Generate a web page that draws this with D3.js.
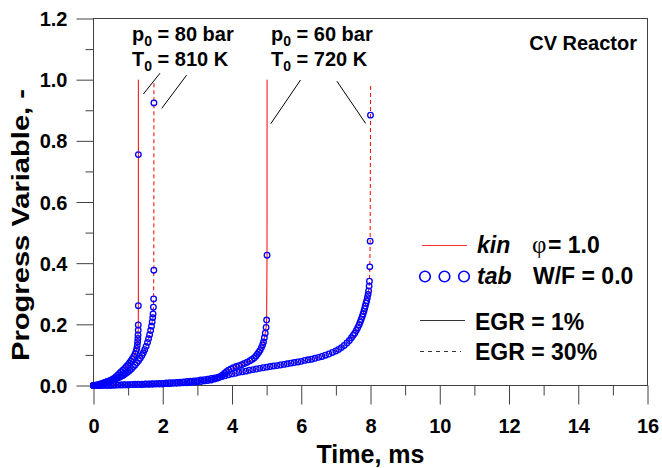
<!DOCTYPE html>
<html>
<head>
<meta charset="utf-8">
<script src="https://cdn.jsdelivr.net/npm/d3@7"></script>
<style>
  body { margin: 0; background: #fff; }
  svg { display: block; }
  text { font-family: "Liberation Sans", Arial, sans-serif; font-weight: bold; fill: #000; }
</style>
</head>
<body>
<svg id="chart" width="662" height="468"></svg>
<script>
// Progress variable vs time, CV reactor. [time ms, progress variable]
// p0 = 80 bar, T0 = 810 K, EGR = 1% (tabulated points)
const tab80egr1 = [
  [0,0],[0.05,0],[0.1,0.001],[0.15,0.002],[0.2,0.003],[0.25,0.004],[0.3,0.006],[0.35,0.008],
  [0.4,0.010],[0.45,0.013],[0.5,0.016],[0.55,0.020],[0.6,0.024],[0.65,0.029],[0.7,0.034],
  [0.75,0.039],[0.8,0.045],[0.85,0.050],[0.9,0.056],[0.95,0.062],[1.0,0.068],[1.04,0.074],
  [1.08,0.080],[1.12,0.087],[1.16,0.094],[1.2,0.103],[1.23,0.112],[1.25,0.121],[1.265,0.132],
  [1.275,0.143],[1.282,0.154],[1.287,0.165],[1.291,0.181],[1.293,0.198],[1.295,0.261],[1.296,0.755]
];
// p0 = 80 bar, T0 = 810 K, EGR = 30%
const tab80egr30 = [
  [0,0],[0.05,0.001],[0.1,0.002],[0.15,0.003],[0.2,0.005],[0.25,0.007],[0.3,0.009],[0.35,0.011],
  [0.4,0.013],[0.45,0.015],[0.5,0.017],[0.55,0.019],[0.6,0.021],[0.65,0.023],[0.7,0.025],
  [0.75,0.027],[0.8,0.030],[0.85,0.033],[0.9,0.037],[0.95,0.041],[1.0,0.045],[1.05,0.050],
  [1.1,0.055],[1.15,0.061],[1.2,0.067],[1.25,0.074],[1.3,0.081],[1.35,0.089],[1.4,0.098],
  [1.44,0.107],[1.48,0.117],[1.52,0.128],[1.56,0.141],[1.59,0.153],[1.62,0.166],[1.65,0.180],
  [1.675,0.194],[1.695,0.208],[1.71,0.222],[1.72,0.234],[1.73,0.256],[1.737,0.283],
  [1.742,0.377],[1.745,0.924]
];
// p0 = 60 bar, T0 = 720 K, EGR = 1%
const tab60egr1 = [
  [0,0],[0.1,0],[0.2,0],[0.3,0.001],[0.4,0.001],[0.5,0.001],[0.6,0.001],[0.7,0.002],[0.8,0.002],
  [0.9,0.002],[1.0,0.002],[1.1,0.003],[1.2,0.003],[1.3,0.003],[1.4,0.003],[1.5,0.004],[1.6,0.004],
  [1.7,0.004],[1.8,0.005],[1.9,0.005],[2.0,0.005],[2.1,0.006],[2.2,0.006],[2.3,0.007],[2.4,0.007],
  [2.5,0.008],[2.6,0.009],[2.7,0.009],[2.8,0.010],[2.9,0.011],[3.0,0.012],[3.1,0.013],[3.2,0.015],
  [3.3,0.016],[3.4,0.018],[3.5,0.021],[3.58,0.024],[3.64,0.027],[3.69,0.031],[3.74,0.035],
  [3.79,0.040],[3.84,0.045],[3.9,0.050],[3.97,0.054],[4.04,0.058],[4.12,0.062],[4.2,0.065],
  [4.28,0.068],[4.36,0.072],[4.44,0.076],[4.52,0.081],[4.58,0.085],[4.64,0.090],[4.69,0.096],
  [4.73,0.102],[4.77,0.108],[4.81,0.115],[4.85,0.124],[4.885,0.133],[4.91,0.142],[4.935,0.156],
  [4.96,0.171],[4.985,0.190],[5.0,0.214],[5.012,0.426]
];
// p0 = 60 bar, T0 = 720 K, EGR = 30%
const tab60egr30 = [
  [0,0],[0.1,0],[0.2,0.001],[0.3,0.001],[0.4,0.001],[0.5,0.001],[0.6,0.002],[0.7,0.002],[0.8,0.002],
  [0.9,0.003],[1.0,0.003],[1.1,0.003],[1.2,0.004],[1.3,0.004],[1.4,0.004],[1.5,0.005],[1.6,0.005],
  [1.7,0.006],[1.8,0.006],[1.9,0.007],[2.0,0.007],[2.1,0.008],[2.2,0.009],[2.3,0.009],[2.4,0.010],
  [2.5,0.011],[2.6,0.012],[2.7,0.013],[2.8,0.014],[2.9,0.015],[3.0,0.016],[3.1,0.018],[3.2,0.019],
  [3.3,0.021],[3.4,0.023],[3.5,0.025],[3.6,0.027],[3.7,0.029],[3.8,0.032],[3.9,0.035],[4.0,0.038],
  [4.1,0.040],[4.2,0.043],[4.3,0.045],[4.4,0.047],[4.5,0.050],[4.6,0.052],[4.7,0.054],[4.8,0.056],
  [4.9,0.058],[5.0,0.060],[5.1,0.062],[5.2,0.064],[5.3,0.065],[5.4,0.067],[5.5,0.069],[5.6,0.071],
  [5.7,0.073],[5.8,0.075],[5.9,0.077],[6.0,0.079],[6.1,0.082],[6.2,0.084],[6.3,0.086],[6.4,0.089],
  [6.5,0.092],[6.6,0.095],[6.7,0.099],[6.8,0.103],[6.9,0.108],[7.0,0.113],[7.08,0.118],[7.16,0.124],
  [7.24,0.131],[7.32,0.139],[7.39,0.147],[7.45,0.156],[7.5,0.164],[7.545,0.171],[7.59,0.180],
  [7.63,0.189],[7.67,0.198],[7.7,0.207],[7.73,0.216],[7.76,0.225],[7.785,0.234],[7.81,0.243],
  [7.83,0.252],[7.85,0.260],[7.87,0.269],[7.89,0.277],[7.91,0.287],[7.93,0.298],[7.945,0.309],
  [7.96,0.325],[7.97,0.341],[7.98,0.388],[7.99,0.472],[8.0,0.884]
];
// kinetic solution: same path as the tabulated points, then the vertical jump at ignition
const kin80egr1 = tab80egr1.concat([[1.296, 1.0]]);
const kin80egr30 = tab80egr30.concat([[1.746, 0.99]]);
const kin60egr1 = tab60egr1.concat([[5.013, 1.0]]);
const kin60egr30 = tab60egr30.concat([[8.004, 0.984]]);

const xMajor = [0, 2, 4, 6, 8, 10, 12, 14, 16];
const xMinor = [1, 3, 5, 7, 9, 11, 13, 15];
const yMajor = [0, 0.2, 0.4, 0.6, 0.8, 1.0, 1.2];
const yMinor = [0.1, 0.3, 0.5, 0.7, 0.9, 1.1];

// leader lines from the condition labels to the curves: [t1, c1, t2, c2]
const leaders = [
  [1.92, 1.021, 1.44, 0.953],
  [2.69, 1.015, 1.97, 0.906],
  [5.98, 0.999, 5.12, 0.856],
  [7.03, 0.995, 7.86, 0.857]
];

const svg = d3.select("#chart");
const x = d3.scaleLinear().domain([0, 16]).range([93.5, 647.5]);
const y = d3.scaleLinear().domain([0, 1.2]).range([385.5, 18.5]);
const AXIS = "#404040";
const FONT = "'Liberation Sans', Arial, sans-serif";

// ticks
function tickAxis(axis, vals, size, labels, tr) {
  const g = svg.append("g").attr("transform", tr)
    .call(axis.tickValues(vals).tickSize(size).tickSizeOuter(0)
      .tickFormat(labels ? labels : ""));
  g.select(".domain").remove();
  g.selectAll(".tick line").attr("stroke", AXIS);
  return g;
}
tickAxis(d3.axisBottom(x), xMinor, 10, null, `translate(0,${y(0)})`);
const gx = tickAxis(d3.axisBottom(x), xMajor, 19, d3.format("d"), `translate(0,${y(0)})`);
gx.selectAll(".tick text").attr("y", 47).attr("dy", 0)
  .style("font-size", "20px").style("font-family", FONT)
  .style("font-weight", "bold").attr("fill", "#000");
tickAxis(d3.axisLeft(y), yMinor, 8, null, `translate(${x(0)},0)`);
const gy = tickAxis(d3.axisLeft(y), yMajor, 17, d3.format(".1f"), `translate(${x(0)},0)`);
gy.selectAll(".tick text").attr("x", -26).attr("dy", "0.35em")
  .style("font-size", "20px").style("font-family", FONT)
  .style("font-weight", "bold").attr("fill", "#000");

// frame
svg.append("rect")
  .attr("x", x(0)).attr("y", y(1.2))
  .attr("width", x(16) - x(0)).attr("height", y(0) - y(1.2))
  .attr("fill", "none").attr("stroke", AXIS).attr("stroke-width", 1);

// kin lines
const line = d3.line().x(d => x(d[0])).y(d => y(d[1]));
const series = [
  { kin: kin80egr1, tab: tab80egr1, dash: null },
  { kin: kin80egr30, tab: tab80egr30, dash: "4,3" },
  { kin: kin60egr1, tab: tab60egr1, dash: null },
  { kin: kin60egr30, tab: tab60egr30, dash: "4,3" }
];
series.forEach(s => {
  svg.append("path").datum(s.kin)
    .attr("d", line).attr("fill", "none")
    .attr("stroke", "#ff0000").attr("stroke-width", 1)
    .attr("stroke-dasharray", s.dash);
});
// tab points
series.forEach(s => {
  svg.append("g").selectAll("circle").data(s.tab).join("circle")
    .attr("cx", d => x(d[0])).attr("cy", d => y(d[1])).attr("r", 2.8)
    .attr("fill", "none").attr("stroke", "#0000ff").attr("stroke-width", 1.3);
});

// leader lines
svg.append("g").selectAll("line").data(leaders).join("line")
  .attr("x1", d => x(d[0])).attr("y1", d => y(d[1]))
  .attr("x2", d => x(d[2])).attr("y2", d => y(d[3]))
  .attr("stroke", "#000").attr("stroke-width", 1);

// condition labels
function subLabel(px, py, main, rest) {
  const t = svg.append("text").attr("x", px).attr("y", py).style("font-size", "20px");
  t.append("tspan").text(main);
  t.append("tspan").attr("dy", 5).style("font-size", "14px").text("0");
  t.append("tspan").attr("dy", -5).text(rest);
}
subLabel(132, 41, "p", " = 80 bar");
subLabel(132, 66, "T", " = 810 K");
subLabel(271, 41, "p", " = 60 bar");
subLabel(271, 66, "T", " = 720 K");

svg.append("text").attr("x", 637).attr("y", 50).attr("text-anchor", "end")
  .style("font-size", "20px").text("CV Reactor");

// legend
const LEG = 23;
svg.append("line").attr("x1", 422).attr("x2", 467).attr("y1", 245.5).attr("y2", 245.5)
  .attr("stroke", "#ff3030").attr("stroke-width", 1.2);
svg.append("text").attr("x", 477).attr("y", 253).style("font-size", LEG + "px")
  .style("font-style", "italic").text("kin");
const phi = svg.append("text").attr("x", 532).attr("y", 253).style("font-size", LEG + "px");
phi.append("tspan").style("font-family", "'Liberation Serif', 'DejaVu Serif', serif")
  .style("font-weight", "normal").style("font-size", "25px").text("φ");
phi.append("tspan").attr("x", 548).text("= 1.0");

svg.append("g").selectAll("circle").data([425, 444.5, 464]).join("circle")
  .attr("cx", d => d).attr("cy", 276.5).attr("r", 5.3)
  .attr("fill", "none").attr("stroke", "#0000ff").attr("stroke-width", 1.6);
svg.append("text").attr("x", 477).attr("y", 284).style("font-size", LEG + "px")
  .style("font-style", "italic").text("tab");
svg.append("text").attr("x", 533).attr("y", 284).style("font-size", LEG + "px").text("W/F = 0.0");

svg.append("line").attr("x1", 420).attr("x2", 465).attr("y1", 320.5).attr("y2", 320.5)
  .attr("stroke", "#333").attr("stroke-width", 1);
svg.append("text").attr("x", 475).attr("y", 330).style("font-size", LEG + "px").text("EGR = 1%");
svg.append("line").attr("x1", 420).attr("x2", 461).attr("y1", 351.5).attr("y2", 351.5)
  .attr("stroke", "#333").attr("stroke-width", 1).attr("stroke-dasharray", "4,4");
svg.append("text").attr("x", 475).attr("y", 360).style("font-size", LEG + "px").text("EGR = 30%");

// axis titles
svg.append("text").attr("x", (x(0) + x(16)) / 2).attr("y", 463).attr("text-anchor", "middle")
  .style("font-size", "25px").text("Time, ms");
svg.append("text").attr("transform", "translate(29,225) rotate(-90)")
  .attr("text-anchor", "middle").style("font-size", "24px")
  .attr("textLength", 272).attr("lengthAdjust", "spacingAndGlyphs")
  .text("Progress Variable, -");
</script>
</body>
</html>
